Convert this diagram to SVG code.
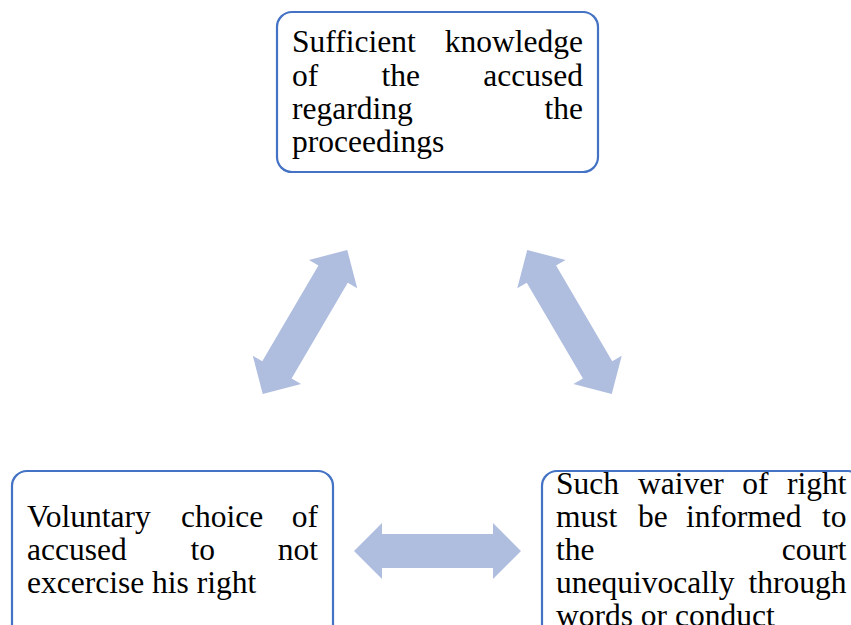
<svg xmlns="http://www.w3.org/2000/svg" width="851" height="625" viewBox="0 0 851 625">
<defs>
<style>
.box{fill:#ffffff;stroke:#4472C4;stroke-width:2.2}
.t{font-family:"Liberation Serif","Times New Roman",serif;font-size:31.5px;fill:#000000}
.e{text-anchor:end}
.arr{fill:#AFBDDF}
</style>
<path id="dbl" d="M -83.5,0 L -55.5,-28 L -55.5,-17 L 55.5,-17 L 55.5,-28 L 83.5,0 L 55.5,28 L 55.5,17 L -55.5,17 L -55.5,28 Z"/>
</defs>
<rect width="851" height="625" fill="#ffffff"/>
<g id="connectors">
<use href="#dbl" class="arr" transform="translate(305,322) rotate(-59.6)"/>
<use href="#dbl" class="arr" transform="translate(569.5,322) rotate(59.6)"/>
<use href="#dbl" class="arr" transform="translate(437.5,551)"/>
</g>
<g id="node-top">
<rect class="box" x="277" y="12" width="321" height="160" rx="15"/>
<text class="t" x="292" y="52">Sufficient</text>
<text class="t e" x="583" y="52">knowledge</text>
<text class="t" x="292" y="85.5">of</text>
<text class="t" x="381.5" y="85.5">the</text>
<text class="t e" x="583" y="85.5">accused</text>
<text class="t" x="292" y="119">regarding</text>
<text class="t e" x="583" y="119">the</text>
<text class="t" x="292" y="152">proceedings</text>
</g>
<g id="node-left">
<rect class="box" x="12" y="471" width="321" height="170" rx="15"/>
<text class="t" x="27" y="527">Voluntary</text>
<text class="t" x="181" y="527">choice</text>
<text class="t e" x="318" y="527">of</text>
<text class="t" x="27" y="560">accused</text>
<text class="t" x="190.5" y="560">to</text>
<text class="t e" x="318" y="560">not</text>
<text class="t" x="27" y="593">excercise his right</text>
</g>
<g id="node-right">
<rect class="box" x="542" y="471" width="321" height="170" rx="15"/>
<text class="t" x="556" y="494">Such</text>
<text class="t" x="638" y="494">waiver</text>
<text class="t" x="742.3" y="494">of</text>
<text class="t e" x="846.5" y="494">right</text>
<text class="t" x="556" y="527">must</text>
<text class="t" x="638" y="527">be</text>
<text class="t" x="686" y="527">informed</text>
<text class="t e" x="846.5" y="527">to</text>
<text class="t" x="556" y="560">the</text>
<text class="t e" x="846.5" y="560">court</text>
<text class="t" x="556" y="593">unequivocally</text>
<text class="t e" x="846.5" y="593">through</text>
<text class="t" x="556" y="626">words or conduct</text>
</g>
</svg>
